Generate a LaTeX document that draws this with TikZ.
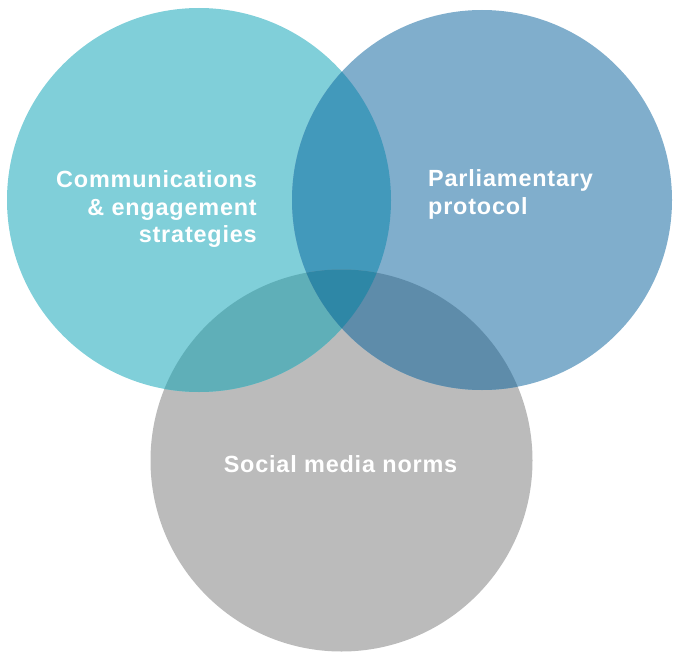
\documentclass[tikz,border=0pt]{standalone}
\usepackage{fontspec}
\setmainfont{Liberation Sans}[LetterSpace=3.5]
\usetikzlibrary{positioning}
\definecolor{commfill}{RGB}{128,207,217}
\definecolor{protfill}{RGB}{128,174,204}
\definecolor{normfill}{RGB}{187,187,187}
\definecolor{cpfill}{RGB}{66,153,187}
\definecolor{csfill}{RGB}{95,175,184}
\definecolor{psfill}{RGB}{94,140,170}
\definecolor{allfill}{RGB}{46,135,166}

\begin{document}
\begin{tikzpicture}[x=1bp,y=-1bp,
  lbl/.style={text=white,inner sep=0pt,
     font=\bfseries\fontsize{23.5}{28}\selectfont}]
\useasboundingbox (0,0) rectangle (673,652);
\coordinate (cc) at (199,200);
\coordinate (pc) at (482,200);
\coordinate (sc) at (341.5,460.5);
% circles
\fill[normfill] (sc) circle (191);
\fill[commfill] (cc) circle (192);
\fill[protfill] (pc) circle (190);
% overlaps
\begin{scope}
  \clip (cc) circle (192);
  \fill[cpfill] (pc) circle (190);
  \fill[csfill] (sc) circle (191);
\end{scope}
\begin{scope}
  \clip (pc) circle (190);
  \fill[psfill] (sc) circle (191);
  \clip (cc) circle (192);
  \fill[allfill] (sc) circle (191);
\end{scope}
% labels
\node[lbl,align=right,anchor=north east] (comm) at (257,170)
  {Communications\\\& engagement\\strategies};
\node[lbl,align=left,anchor=north west] (prot) at (428,169)
  {Parliamentary\\protocol};
\node[lbl,anchor=base] (norm) at (340.5,472) {Social media norms};
\end{tikzpicture}
\end{document}
